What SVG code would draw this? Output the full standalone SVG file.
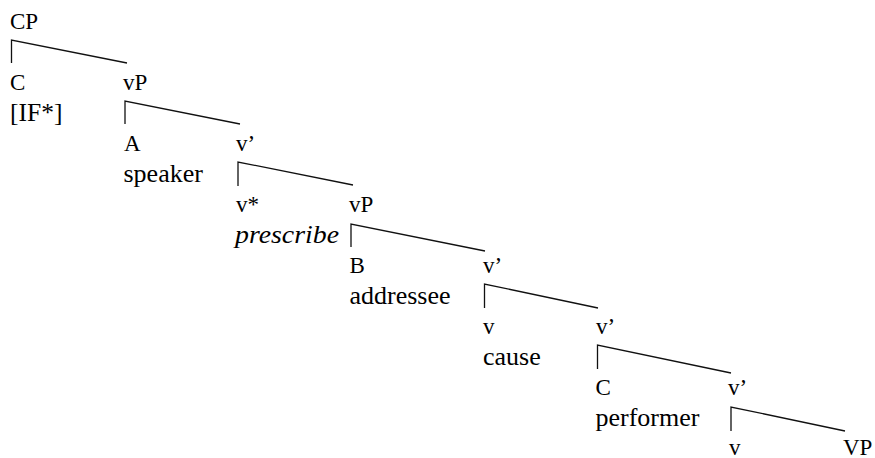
<svg xmlns="http://www.w3.org/2000/svg" width="875" height="458" viewBox="0 0 875 458">
<style>
.br{fill:none;stroke:#111;stroke-width:1.3}
</style>
<rect width="875" height="458" fill="#fff"/>
<g id="connectors">
<path class="br" d="M11.5,63 V40 L127,63"/>
<path class="br" d="M125,124 V101 L240,124"/>
<path class="br" d="M238,186 V162 L353,185"/>
<path class="br" d="M351,247 V224 L485,251"/>
<path class="br" d="M484.5,308 V284 L598,308"/>
<path class="br" d="M597.5,369 V345 L731,373"/>
<path class="br" d="M731,431 V407 L845,431"/>
</g>
<g id="n-CP"><text font-family="Liberation Serif" font-size="23" x="10" y="28.5">CP</text></g>
<g id="n-C"><text font-family="Liberation Serif" font-size="23" x="10" y="89.5">C</text><text font-family="Liberation Serif" x="10" y="121" font-size="25.5">[IF*]</text></g>
<g id="n-vP1"><text font-family="Liberation Serif" font-size="23" x="123" y="89.5">vP</text></g>
<g id="n-A"><text font-family="Liberation Serif" font-size="23" x="124" y="150.5">A</text><text font-family="Liberation Serif" x="123.5" y="182" font-size="26">speaker</text></g>
<g id="n-v1"><text font-family="Liberation Serif" font-size="23" x="236" y="150.5">v’</text></g>
<g id="n-vstar"><text font-family="Liberation Serif" font-size="23" x="236" y="211.5">v*</text><text font-family="Liberation Serif" font-style="italic" font-size="26" x="235" y="243" textLength="104" lengthAdjust="spacingAndGlyphs">prescribe</text></g>
<g id="n-vP2"><text font-family="Liberation Serif" font-size="23" x="349" y="211.5">vP</text></g>
<g id="n-B"><text font-family="Liberation Serif" font-size="23" x="349.5" y="272.5">B</text><text font-family="Liberation Serif" x="349.5" y="304" font-size="26">addressee</text></g>
<g id="n-v2"><text font-family="Liberation Serif" font-size="23" x="483" y="272.5">v’</text></g>
<g id="n-v3"><text font-family="Liberation Serif" font-size="23" x="483" y="333.5">v</text><text font-family="Liberation Serif" x="483" y="365" font-size="26">cause</text></g>
<g id="n-v4"><text font-family="Liberation Serif" font-size="23" x="596" y="333.5">v’</text></g>
<g id="n-C2"><text font-family="Liberation Serif" font-size="23" x="595.5" y="394.5">C</text><text font-family="Liberation Serif" x="595.5" y="426" font-size="26">performer</text></g>
<g id="n-v5"><text font-family="Liberation Serif" font-size="23" x="728" y="394.5">v’</text></g>
<g id="n-v6"><text font-family="Liberation Serif" font-size="23" x="729" y="454.5">v</text></g>
<g id="n-VP"><text font-family="Liberation Serif" font-size="23" x="843" y="454.5">VP</text></g>
</svg>
